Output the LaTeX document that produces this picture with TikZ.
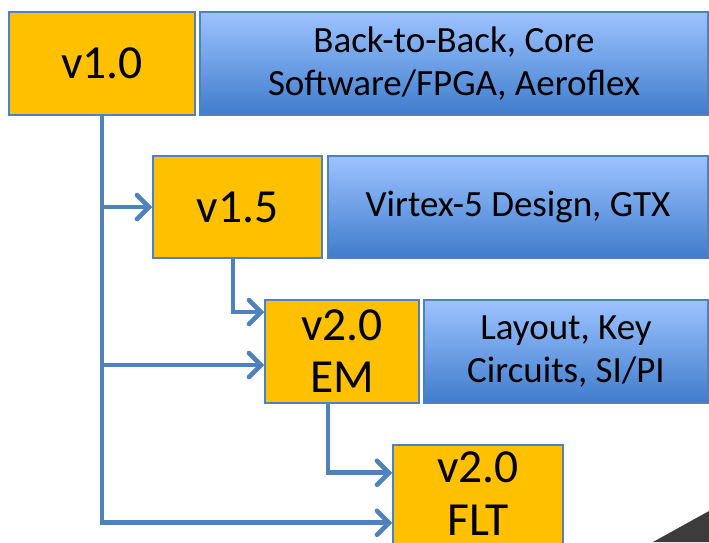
\documentclass[tikz,border=0pt]{standalone}
\usepackage{fontspec}
\setmainfont{Carlito}
\usetikzlibrary{arrows.meta}
\definecolor{vorange}{HTML}{FFC000}
\definecolor{vedge}{HTML}{4F81BD}
\definecolor{vline}{HTML}{4F81BD}
\definecolor{btop}{HTML}{9DC3FF}
\definecolor{bbot}{HTML}{3F7CCC}
\definecolor{shadow}{HTML}{3C3C3C}
\begin{document}
\begin{tikzpicture}[x=1pt,y=-1pt,
  ver/.style={draw=vedge,line width=1.5pt,fill=vorange,inner sep=0pt,align=center,
    font=\fontsize{47.5}{52}\selectfont},
  feat/.style={draw=vedge,line width=1.5pt,top color=btop,bottom color=bbot,inner sep=0pt,
    align=center,font=\fontsize{37}{43.5}\selectfont},
  vtext/.style={inner sep=0pt,align=center,font=\fontsize{47.5}{53}\selectfont},
  link/.style={draw=vline,line width=4.6pt,line join=miter,
    -{Straight Barb[length=12pt,width=24pt,line cap=round]}}]
\clip (0,0) rectangle (709,542);
\fill[white] (0,0) rectangle (709,542);

% version boxes
\node[ver,minimum width=186pt,minimum height=103pt] (v10) at (102,63.5) {v1.0};
\node[ver,minimum width=169pt,minimum height=102pt] (v15) at (237.5,207) {v1.5};
\node[ver,minimum width=154pt,minimum height=103pt] (em) at (342,351.5) {v2.0\\EM};
\node[ver,minimum width=170pt,minimum height=120pt,anchor=north] (flt) at (478,444) {};
\node[vtext] (flttext) at (478,494) {v2.0\\FLT};

% feature boxes
\node[feat,minimum width=508pt,minimum height=103pt] (f10) at (454,63.5)
  {Back-to-Back, Core\\Software/FPGA, Aeroflex};
\node[feat,minimum width=380pt,minimum height=102pt] (f15) at (518,207)
  {Virtex-5 Design, GTX};
\node[feat,minimum width=284pt,minimum height=103pt] (fem) at (566,351.5)
  {Layout, Key\\Circuits, SI/PI};

% connectors
\draw[link] (v10.south) |- ([yshift=-18pt]flt.west);
\draw[link] (v10.south) |- ([yshift=-13.5pt]em.west);
\draw[link] (v10.south) |- (v15.west);
\draw[link] ([xshift=-4.5pt]v15.south) |- ([yshift=39.5pt]em.west);
\draw[link] ([xshift=-14pt]em.south) |- ([yshift=32pt]flt.west);

% dark corner of a background picture
\fill[shadow] (653,542) -- (709,511) -- (709,542) -- cycle;
\end{tikzpicture}
\end{document}
